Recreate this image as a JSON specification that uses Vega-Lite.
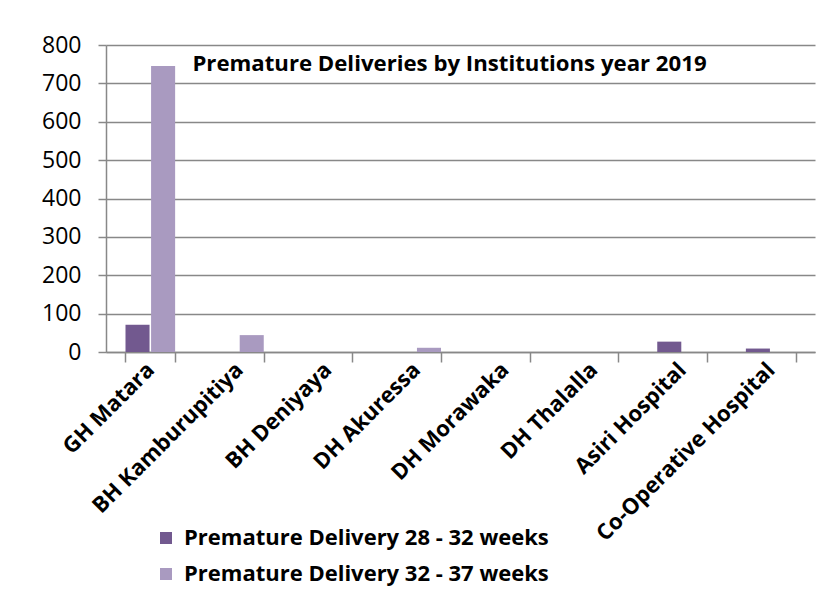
{
  "$schema": "https://vega.github.io/schema/vega-lite/v6.json",
  "autosize": {"type": "none"},
  "width": 709,
  "height": 307,
  "padding": {"left": 106, "top": 45, "right": 21, "bottom": 251},
  "background": "white",
  "config": {
    "font": "Open Sans",
    "view": {"stroke": null}
  },
  "title": {
    "text": "Premature Deliveries by Institutions year 2019",
    "font": "Open Sans",
    "fontSize": 22.2,
    "fontWeight": "bold",
    "color": "#000000",
    "anchor": "middle",
    "frame": "group",
    "baseline": "alphabetic",
    "offset": 0,
    "dy": 59,
    "dx": -11
  },
  "data": {
    "values": [
      {"institution": "GH Matara", "series": "Premature Delivery  28 - 32 weeks", "value": 71},
      {"institution": "GH Matara", "series": "Premature Delivery 32 - 37 weeks", "value": 745},
      {"institution": "BH Kamburupitiya", "series": "Premature Delivery  28 - 32 weeks", "value": 0},
      {"institution": "BH Kamburupitiya", "series": "Premature Delivery 32 - 37 weeks", "value": 44},
      {"institution": "BH Deniyaya", "series": "Premature Delivery  28 - 32 weeks", "value": 0},
      {"institution": "BH Deniyaya", "series": "Premature Delivery 32 - 37 weeks", "value": 0},
      {"institution": "DH Akuressa", "series": "Premature Delivery  28 - 32 weeks", "value": 0},
      {"institution": "DH Akuressa", "series": "Premature Delivery 32 - 37 weeks", "value": 11},
      {"institution": "DH Morawaka", "series": "Premature Delivery  28 - 32 weeks", "value": 0},
      {"institution": "DH Morawaka", "series": "Premature Delivery 32 - 37 weeks", "value": 0},
      {"institution": "DH Thalalla", "series": "Premature Delivery  28 - 32 weeks", "value": 0},
      {"institution": "DH Thalalla", "series": "Premature Delivery 32 - 37 weeks", "value": 0},
      {"institution": "Asiri  Hospital", "series": "Premature Delivery  28 - 32 weeks", "value": 27},
      {"institution": "Asiri  Hospital", "series": "Premature Delivery 32 - 37 weeks", "value": 0},
      {"institution": "Co-Operative Hospital", "series": "Premature Delivery  28 - 32 weeks", "value": 9},
      {"institution": "Co-Operative Hospital", "series": "Premature Delivery 32 - 37 weeks", "value": 0}
    ]
  },
  "mark": {"type": "bar"},
  "encoding": {
    "x": {
      "field": "institution",
      "type": "nominal",
      "sort": null,
      "scale": {"paddingInner": 0.44, "paddingOuter": 0.22},
      "axis": {
        "title": null,
        "labelAngle": -45,
        "labelAlign": "right",
        "labelBaseline": "middle",
        "labelFont": "Open Sans",
        "labelFontSize": 22,
        "labelFontWeight": "bold",
        "labelColor": "#000000",
        "labelPadding": 4,
        "labelOverlap": false,
        "labelLimit": 400,
        "domainColor": "#888888",
        "domainWidth": 1.5,
        "tickColor": "#888888",
        "tickWidth": 1.5,
        "tickSize": 10,
        "tickBand": "extent",
        "grid": false
      }
    },
    "xOffset": {
      "field": "series",
      "type": "nominal",
      "scale": {"paddingInner": 0.06}
    },
    "y": {
      "field": "value",
      "type": "quantitative",
      "scale": {"domain": [0, 800], "nice": false},
      "axis": {
        "title": null,
        "values": [0, 100, 200, 300, 400, 500, 600, 700, 800],
        "labelFont": "Open Sans",
        "labelFontSize": 23,
        "labelColor": "#000000",
        "labelPadding": 17,
        "domainColor": "#888888",
        "domainWidth": 1.5,
        "tickColor": "#888888",
        "tickWidth": 1.5,
        "tickSize": 8,
        "gridColor": "#888888",
        "gridWidth": 1.5
      }
    },
    "color": {
      "field": "series",
      "type": "nominal",
      "scale": {
        "domain": ["Premature Delivery  28 - 32 weeks", "Premature Delivery 32 - 37 weeks"],
        "range": ["#72598f", "#a99ac0"]
      },
      "legend": {
        "title": null,
        "orient": "none",
        "legendX": 49,
        "legendY": 482,
        "symbolType": "square",
        "symbolSize": 144,
        "symbolStrokeWidth": 0,
        "labelFont": "Open Sans",
        "labelFontSize": 22,
        "labelFontWeight": "bold",
        "labelColor": "#000000",
        "labelLimit": 600,
        "rowPadding": 14,
        "labelOffset": 7
      }
    }
  }
}
